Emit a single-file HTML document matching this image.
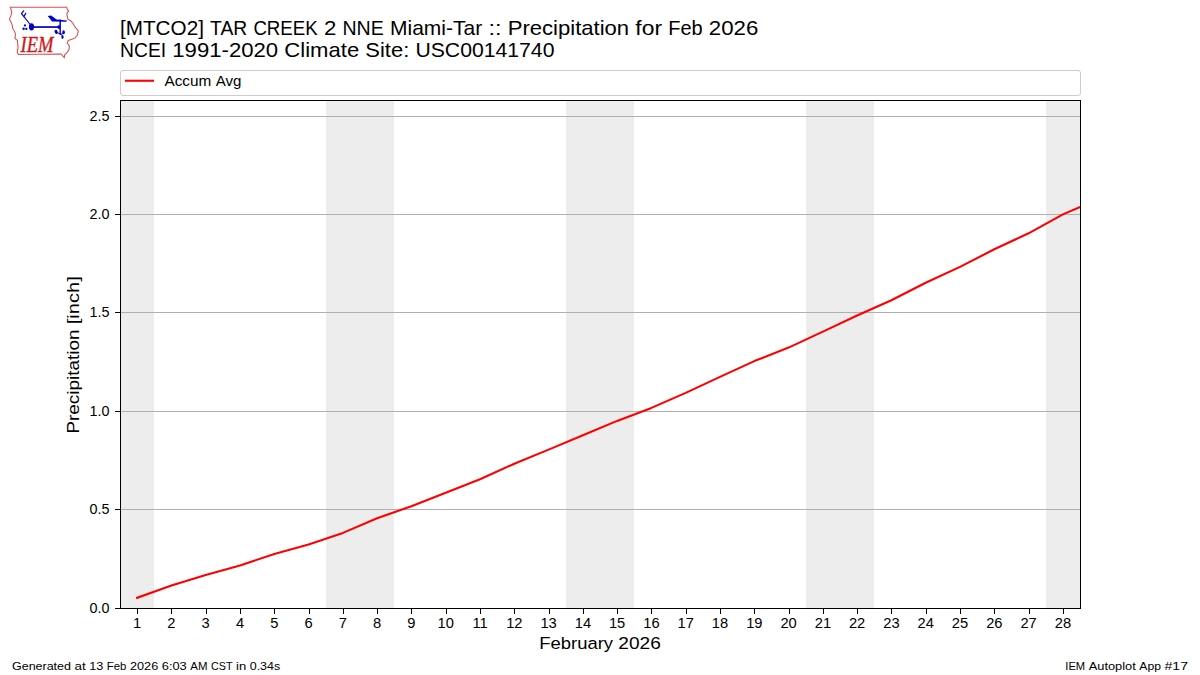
<!DOCTYPE html><html><head><meta charset="utf-8"><style>html,body{margin:0;padding:0;background:#fff;width:1200px;height:675px;overflow:hidden}svg{display:block}text{font-family:"Liberation Sans",sans-serif;fill:#000}</style></head><body>
<svg width="1200" height="675" viewBox="0 0 1200 675">
<rect x="0" y="0" width="1200" height="675" fill="#fff"/>
<rect x="120" y="101" width="34" height="507" fill="#ededed"/>
<rect x="326" y="101" width="68" height="507" fill="#ededed"/>
<rect x="566" y="101" width="68" height="507" fill="#ededed"/>
<rect x="806" y="101" width="68" height="507" fill="#ededed"/>
<rect x="1046" y="101" width="34" height="507" fill="#ededed"/>
<rect x="120" y="116" width="960" height="1" fill="#b0b0b0"/>
<rect x="120" y="214" width="960" height="1" fill="#b0b0b0"/>
<rect x="120" y="312" width="960" height="1" fill="#b0b0b0"/>
<rect x="120" y="411" width="960" height="1" fill="#b0b0b0"/>
<rect x="120" y="509" width="960" height="1" fill="#b0b0b0"/>
<clipPath id="ax"><rect x="120.5" y="100.5" width="960" height="508"/></clipPath>
<polyline clip-path="url(#ax)" points="137.1,597.8 171.4,585.5 205.7,575.0 240.0,565.5 274.3,553.9 308.6,544.6 342.9,532.9 377.1,518.2 411.4,506.2 445.7,492.7 480.0,479.3 514.3,463.7 548.6,449.6 582.9,435.3 617.1,420.9 651.4,407.9 685.7,392.9 720.0,376.9 754.3,361.1 788.6,347.6 822.9,331.6 857.1,315.5 891.4,300.3 925.7,282.7 960.0,266.9 994.3,249.3 1028.6,233.3 1062.9,214.4 1097.1,199.8" fill="none" stroke="#ff0000" stroke-width="2.1" stroke-linejoin="round" stroke-linecap="square"/>
<rect x="120" y="100" width="961" height="1" fill="#000"/>
<rect x="120" y="608" width="961" height="1" fill="#000"/>
<rect x="120" y="100" width="1" height="509" fill="#000"/>
<rect x="1080" y="100" width="1" height="509" fill="#000"/>
<rect x="137" y="609" width="1" height="5" fill="#000"/>
<text x="137.1" y="628" font-size="14.7" text-anchor="middle">1</text>
<rect x="171" y="609" width="1" height="5" fill="#000"/>
<text x="171.4" y="628" font-size="14.7" text-anchor="middle">2</text>
<rect x="206" y="609" width="1" height="5" fill="#000"/>
<text x="205.7" y="628" font-size="14.7" text-anchor="middle">3</text>
<rect x="240" y="609" width="1" height="5" fill="#000"/>
<text x="240.0" y="628" font-size="14.7" text-anchor="middle">4</text>
<rect x="274" y="609" width="1" height="5" fill="#000"/>
<text x="274.3" y="628" font-size="14.7" text-anchor="middle">5</text>
<rect x="309" y="609" width="1" height="5" fill="#000"/>
<text x="308.6" y="628" font-size="14.7" text-anchor="middle">6</text>
<rect x="343" y="609" width="1" height="5" fill="#000"/>
<text x="342.9" y="628" font-size="14.7" text-anchor="middle">7</text>
<rect x="377" y="609" width="1" height="5" fill="#000"/>
<text x="377.1" y="628" font-size="14.7" text-anchor="middle">8</text>
<rect x="411" y="609" width="1" height="5" fill="#000"/>
<text x="411.4" y="628" font-size="14.7" text-anchor="middle">9</text>
<rect x="446" y="609" width="1" height="5" fill="#000"/>
<text x="445.7" y="628" font-size="14.7" text-anchor="middle">10</text>
<rect x="480" y="609" width="1" height="5" fill="#000"/>
<text x="480.0" y="628" font-size="14.7" text-anchor="middle">11</text>
<rect x="514" y="609" width="1" height="5" fill="#000"/>
<text x="514.3" y="628" font-size="14.7" text-anchor="middle">12</text>
<rect x="549" y="609" width="1" height="5" fill="#000"/>
<text x="548.6" y="628" font-size="14.7" text-anchor="middle">13</text>
<rect x="583" y="609" width="1" height="5" fill="#000"/>
<text x="582.9" y="628" font-size="14.7" text-anchor="middle">14</text>
<rect x="617" y="609" width="1" height="5" fill="#000"/>
<text x="617.1" y="628" font-size="14.7" text-anchor="middle">15</text>
<rect x="651" y="609" width="1" height="5" fill="#000"/>
<text x="651.4" y="628" font-size="14.7" text-anchor="middle">16</text>
<rect x="686" y="609" width="1" height="5" fill="#000"/>
<text x="685.7" y="628" font-size="14.7" text-anchor="middle">17</text>
<rect x="720" y="609" width="1" height="5" fill="#000"/>
<text x="720.0" y="628" font-size="14.7" text-anchor="middle">18</text>
<rect x="754" y="609" width="1" height="5" fill="#000"/>
<text x="754.3" y="628" font-size="14.7" text-anchor="middle">19</text>
<rect x="789" y="609" width="1" height="5" fill="#000"/>
<text x="788.6" y="628" font-size="14.7" text-anchor="middle">20</text>
<rect x="823" y="609" width="1" height="5" fill="#000"/>
<text x="822.9" y="628" font-size="14.7" text-anchor="middle">21</text>
<rect x="857" y="609" width="1" height="5" fill="#000"/>
<text x="857.1" y="628" font-size="14.7" text-anchor="middle">22</text>
<rect x="891" y="609" width="1" height="5" fill="#000"/>
<text x="891.4" y="628" font-size="14.7" text-anchor="middle">23</text>
<rect x="926" y="609" width="1" height="5" fill="#000"/>
<text x="925.7" y="628" font-size="14.7" text-anchor="middle">24</text>
<rect x="960" y="609" width="1" height="5" fill="#000"/>
<text x="960.0" y="628" font-size="14.7" text-anchor="middle">25</text>
<rect x="994" y="609" width="1" height="5" fill="#000"/>
<text x="994.3" y="628" font-size="14.7" text-anchor="middle">26</text>
<rect x="1029" y="609" width="1" height="5" fill="#000"/>
<text x="1028.6" y="628" font-size="14.7" text-anchor="middle">27</text>
<rect x="1063" y="609" width="1" height="5" fill="#000"/>
<text x="1062.9" y="628" font-size="14.7" text-anchor="middle">28</text>
<rect x="115" y="116" width="5" height="1" fill="#000"/>
<text x="109.5" y="120.6" font-size="14.7" text-anchor="end" textLength="20" lengthAdjust="spacingAndGlyphs">2.5</text>
<rect x="115" y="214" width="5" height="1" fill="#000"/>
<text x="109.5" y="218.6" font-size="14.7" text-anchor="end" textLength="20" lengthAdjust="spacingAndGlyphs">2.0</text>
<rect x="115" y="312" width="5" height="1" fill="#000"/>
<text x="109.5" y="316.6" font-size="14.7" text-anchor="end" textLength="20" lengthAdjust="spacingAndGlyphs">1.5</text>
<rect x="115" y="411" width="5" height="1" fill="#000"/>
<text x="109.5" y="415.6" font-size="14.7" text-anchor="end" textLength="20" lengthAdjust="spacingAndGlyphs">1.0</text>
<rect x="115" y="509" width="5" height="1" fill="#000"/>
<text x="109.5" y="513.6" font-size="14.7" text-anchor="end" textLength="20" lengthAdjust="spacingAndGlyphs">0.5</text>
<rect x="115" y="608" width="5" height="1" fill="#000"/>
<text x="109.5" y="612.6" font-size="14.7" text-anchor="end" textLength="20" lengthAdjust="spacingAndGlyphs">0.0</text>
<text x="539.25" y="648.5" font-size="17.1" textLength="73.81" lengthAdjust="spacingAndGlyphs">February</text><text x="618.36" y="648.5" font-size="17.1" textLength="42.38" lengthAdjust="spacingAndGlyphs">2026</text>
<g transform="translate(79,433.6) rotate(-90)"><text x="0.00" y="0" font-size="17.1" textLength="104.11" lengthAdjust="spacingAndGlyphs">Precipitation</text><text x="109.41" y="0" font-size="17.1" textLength="47.91" lengthAdjust="spacingAndGlyphs">[inch]</text></g>
<text x="120.00" y="35" font-size="20.6" textLength="83.89" lengthAdjust="spacingAndGlyphs">[MTCO2]</text><text x="210.06" y="35" font-size="20.6" textLength="37.16" lengthAdjust="spacingAndGlyphs">TAR</text><text x="253.39" y="35" font-size="20.6" textLength="64.39" lengthAdjust="spacingAndGlyphs">CREEK</text><text x="323.95" y="35" font-size="20.6" textLength="12.36" lengthAdjust="spacingAndGlyphs">2</text><text x="342.48" y="35" font-size="20.6" textLength="41.38" lengthAdjust="spacingAndGlyphs">NNE</text><text x="390.03" y="35" font-size="20.6" textLength="92.20" lengthAdjust="spacingAndGlyphs">Miami-Tar</text><text x="488.41" y="35" font-size="20.6" textLength="13.09" lengthAdjust="spacingAndGlyphs">::</text><text x="507.67" y="35" font-size="20.6" textLength="121.50" lengthAdjust="spacingAndGlyphs">Precipitation</text><text x="635.34" y="35" font-size="20.6" textLength="26.72" lengthAdjust="spacingAndGlyphs">for</text><text x="668.23" y="35" font-size="20.6" textLength="34.42" lengthAdjust="spacingAndGlyphs">Feb</text><text x="708.83" y="35" font-size="20.6" textLength="49.44" lengthAdjust="spacingAndGlyphs">2026</text>
<text x="120.00" y="57" font-size="20.6" textLength="46.14" lengthAdjust="spacingAndGlyphs">NCEI</text><text x="172.31" y="57" font-size="20.6" textLength="105.89" lengthAdjust="spacingAndGlyphs">1991-2020</text><text x="284.38" y="57" font-size="20.6" textLength="74.81" lengthAdjust="spacingAndGlyphs">Climate</text><text x="365.36" y="57" font-size="20.6" textLength="43.88" lengthAdjust="spacingAndGlyphs">Site:</text><text x="415.41" y="57" font-size="20.6" textLength="139.03" lengthAdjust="spacingAndGlyphs">USC00141740</text>
<rect x="120.5" y="70.5" width="960" height="25" rx="2.5" ry="2.5" fill="#fff" stroke="#cccccc" stroke-width="1"/>
<line x1="125" y1="80.75" x2="154" y2="80.75" stroke="#ff0000" stroke-width="2.1"/>
<text x="164.50" y="86.2" font-size="14.7" textLength="46.80" lengthAdjust="spacingAndGlyphs">Accum</text><text x="215.70" y="86.2" font-size="14.7" textLength="25.70" lengthAdjust="spacingAndGlyphs">Avg</text>
<text x="12.00" y="669.6" font-size="11.6" textLength="58.92" lengthAdjust="spacingAndGlyphs">Generated</text><text x="74.45" y="669.6" font-size="11.6" textLength="11.17" lengthAdjust="spacingAndGlyphs">at</text><text x="89.16" y="669.6" font-size="11.6" textLength="14.12" lengthAdjust="spacingAndGlyphs">13</text><text x="106.81" y="669.6" font-size="11.6" textLength="19.66" lengthAdjust="spacingAndGlyphs">Feb</text><text x="130.00" y="669.6" font-size="11.6" textLength="28.25" lengthAdjust="spacingAndGlyphs">2026</text><text x="161.78" y="669.6" font-size="11.6" textLength="24.94" lengthAdjust="spacingAndGlyphs">6:03</text><text x="190.25" y="669.6" font-size="11.6" textLength="17.17" lengthAdjust="spacingAndGlyphs">AM</text><text x="210.95" y="669.6" font-size="11.6" textLength="21.58" lengthAdjust="spacingAndGlyphs">CST</text><text x="236.06" y="669.6" font-size="11.6" textLength="10.14" lengthAdjust="spacingAndGlyphs">in</text><text x="249.73" y="669.6" font-size="11.6" textLength="30.50" lengthAdjust="spacingAndGlyphs">0.34s</text>
<text x="1065.30" y="669.6" font-size="11.6" textLength="19.88" lengthAdjust="spacingAndGlyphs">IEM</text><text x="1088.71" y="669.6" font-size="11.6" textLength="47.09" lengthAdjust="spacingAndGlyphs">Autoplot</text><text x="1139.33" y="669.6" font-size="11.6" textLength="21.69" lengthAdjust="spacingAndGlyphs">App</text><text x="1164.55" y="669.6" font-size="11.6" textLength="23.44" lengthAdjust="spacingAndGlyphs">#17</text>
<g id="logo">
<path d="M10.3,7.2 L66.6,7.2 L67.2,9.2 L68.6,11 L67.2,12.8 L67,15.4 L68.1,19.4 L70.8,20.8 L72.6,23 L73.9,25.2 L76.1,28.3 L77.9,30.1 L78.2,31.5 L77.2,35.3 L75.1,37.9 L72,39.2 L68.3,40.4 L67.3,43 L69.4,46.2 L68.9,49.8 L66.8,52.9 L64.7,54.5 L64.2,57.6 L61.1,54.0 L18.5,54.5 L17.2,51.9 L18,47.7 L17.4,40.4 L15.1,38.4 L15.4,34.2 L14.9,32.1 L12.8,28.4 L12.1,24.8 L10.8,21.7 L9.4,19.4 L10.8,15.9 L11.7,13.2 L11.2,9.7 Z" fill="none" stroke="#dc5050" stroke-width="1.1"/>
<g fill="#0000cc" stroke="none">
<ellipse cx="31.5" cy="26.8" rx="2.6" ry="3.6"/>
<rect x="31" y="26.2" width="29.6" height="1.7"/>
<polygon points="57.3,26.2 59.8,24.6 59.8,29.4 57.3,27.9"/>
<rect x="59.5" y="19.4" width="1.4" height="15.3"/>
<polygon points="47.7,15.9 51.2,15.6 56.6,19.6 66.9,20.6 66.4,21.7 52.1,21.4"/>
<circle cx="25" cy="25.4" r="1.1"/><circle cx="23.6" cy="28.8" r="1.2"/><circle cx="26.3" cy="28.9" r="1.15"/>
<ellipse cx="56.2" cy="31.9" rx="1.5" ry="2.1" transform="rotate(-30 56.2 31.9)"/><ellipse cx="63.6" cy="32.3" rx="1.3" ry="2"/><ellipse cx="62.5" cy="37.1" rx="1.2" ry="1.8"/>
</g>
<g stroke="#0000cc" stroke-width="1.2" fill="none" stroke-linecap="round">
<line x1="29.8" y1="24" x2="21.5" y2="13.6"/><line x1="21.5" y1="13.6" x2="23.6" y2="10.8"/><line x1="23.9" y1="16.3" x2="25.8" y2="13.4"/>
</g>
<g stroke="#0000cc" stroke-width="1" fill="none" stroke-linecap="round">
<line x1="57" y1="32.5" x2="60.6" y2="34.1"/><line x1="63.3" y1="33.5" x2="60.8" y2="34.4"/><line x1="62.3" y1="35.6" x2="60.8" y2="34.4"/>
</g>
<text x="20.6" y="51.5" font-style="italic" font-size="22.5" textLength="33" lengthAdjust="spacingAndGlyphs" style="fill:#cc1a1a;stroke:#cc1a1a;stroke-width:0.35;font-family:'Liberation Serif',serif">IEM</text>
</g>
</svg></body></html>
